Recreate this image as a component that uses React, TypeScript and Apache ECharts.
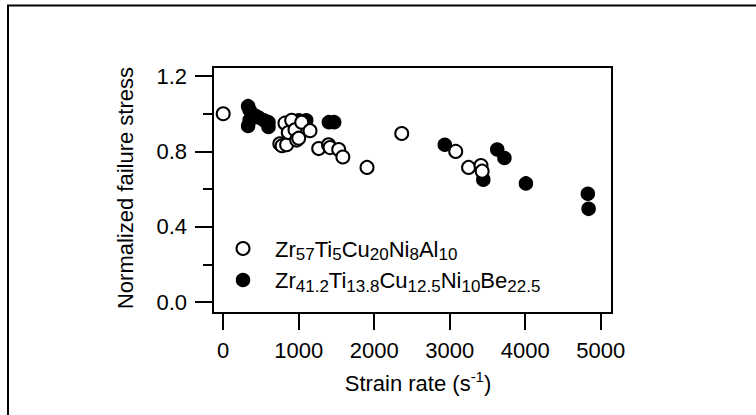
import React, { useEffect, useRef } from "react";
import * as echarts from "echarts";

// Zr57Ti5Cu20Ni8Al10 (open circles): [strain rate, normalized failure stress]
const openSeries: [number, number][] = [
  [0, 1.0], [750, 0.84], [780, 0.83], [840, 0.835], [818, 0.95], [862, 0.9],
  [907, 0.965], [951, 0.915], [973, 0.86], [1000, 0.87], [1040, 0.955],
  [1150, 0.91], [1265, 0.815], [1395, 0.835], [1415, 0.82], [1530, 0.81],
  [1585, 0.77], [1905, 0.715], [2365, 0.895], [3080, 0.8], [3250, 0.715],
  [3415, 0.725], [3430, 0.695],
];

// Zr41.2Ti13.8Cu12.5Ni10Be22.5 (filled circles)
const filledSeries: [number, number][] = [
  [330, 1.04], [350, 1.02], [420, 0.99], [470, 0.98], [350, 0.965], [330, 0.935],
  [540, 0.965], [600, 0.955], [600, 0.93], [1000, 0.965], [1100, 0.965],
  [1400, 0.955], [1470, 0.955], [2935, 0.835], [3445, 0.65], [3630, 0.81],
  [3725, 0.765], [4010, 0.63], [4830, 0.575], [4840, 0.495],
];

const xTicks = [0, 1000, 2000, 3000, 4000, 5000];
const yTicks = [0, 0.4, 0.8, 1.2];
const yMinorTicks = [0.2, 0.6, 1.0];

const legendOpen = "{n|Zr}{s|57}{n|Ti}{s|5}{n|Cu}{s|20}{n|Ni}{s|8}{n|Al}{s|10}";
const legendFilled = "{n|Zr}{s|41.2}{n|Ti}{s|13.8}{n|Cu}{s|12.5}{n|Ni}{s|10}{n|Be}{s|22.5}";

const FONT = "Liberation Sans, Arial, sans-serif";

export default function App() {
  const ref = useRef<HTMLDivElement>(null);
  useEffect(() => {
    if (!ref.current) return;
    const chart = echarts.init(ref.current, undefined, { renderer: "svg" });
    const legendRich = {
      n: { fontSize: 22, fontFamily: FONT, color: "#000", lineHeight: 24 },
      s: { fontSize: 17, fontFamily: FONT, color: "#000", padding: [11, 0, 0, 0] },
    };
    chart.setOption({
      animation: false,
      backgroundColor: "#fff",
      grid: {
        left: 213,
        top: 67,
        right: 144,
        bottom: 102,
        show: true,
        borderColor: "#000",
        borderWidth: 2,
        containLabel: false,
      },
      xAxis: {
        type: "value",
        min: -135,
        max: 5150,
        axisLine: { show: true, onZero: false, lineStyle: { color: "#000", width: 2 } },
        axisTick: {
          show: true,
          inside: false,
          length: 17,
          customValues: xTicks,
          lineStyle: { color: "#000", width: 2 },
        },
        axisLabel: {
          customValues: xTicks,
          fontSize: 22,
          fontFamily: FONT,
          color: "#000",
          margin: 26,
          formatter: (v: number) => String(v),
        },
        splitLine: { show: false },
      },
      yAxis: [
        {
          type: "value",
          min: -0.058,
          max: 1.248,
          axisLine: { show: true, onZero: false, lineStyle: { color: "#000", width: 2 } },
          axisTick: {
            show: true,
            inside: false,
            length: 18,
            customValues: yTicks,
            lineStyle: { color: "#000", width: 2 },
          },
          axisLabel: {
            customValues: yTicks,
            fontSize: 22,
            fontFamily: FONT,
            color: "#000",
            margin: 26,
            formatter: (v: number) => v.toFixed(1),
          },
          splitLine: { show: false },
        },
        {
          type: "value",
          min: -0.058,
          max: 1.248,
          position: "left",
          axisLine: { show: false, onZero: false },
          axisTick: {
            show: true,
            inside: false,
            length: 10,
            customValues: yMinorTicks,
            lineStyle: { color: "#000", width: 2 },
          },
          axisLabel: { show: false },
          splitLine: { show: false },
        },
      ],
      series: [
        {
          name: "Zr41.2Ti13.8Cu12.5Ni10Be22.5",
          type: "scatter",
          data: filledSeries,
          symbol: "circle",
          symbolSize: 13,
          itemStyle: { color: "#000", borderColor: "#000", borderWidth: 1.5, opacity: 1 },
          emphasis: { disabled: true },
        },
        {
          name: "Zr57Ti5Cu20Ni8Al10",
          type: "scatter",
          data: openSeries,
          symbol: "circle",
          symbolSize: 13,
          itemStyle: { color: "#fff", borderColor: "#000", borderWidth: 2, opacity: 1 },
          emphasis: { disabled: true },
        },
      ],
      graphic: [
        {
          type: "rect",
          shape: { x: 8, y: 5.5, width: 900, height: 600 },
          style: { fill: "none", stroke: "#000", lineWidth: 2 },
          silent: true,
        },
        {
          type: "text",
          x: 125,
          y: 188,
          rotation: Math.PI / 2,
          style: {
            text: "Normalized failure stress",
            fontSize: 22,
            fontFamily: FONT,
            fill: "#000",
            align: "center",
            verticalAlign: "middle",
          },
        },
        {
          type: "text",
          x: 418,
          y: 383,
          style: {
            text: "{a|Strain rate (s}{p|-1}{a|)}",
            align: "center",
            verticalAlign: "middle",
            rich: {
              a: { fontSize: 22, fontFamily: FONT, color: "#000", lineHeight: 26 },
              p: { fontSize: 15, fontFamily: FONT, color: "#000", padding: [0, 0, 13, 0] },
            },
          },
        },
        {
          type: "circle",
          shape: { cx: 243, cy: 248.5, r: 6.5 },
          style: { fill: "#fff", stroke: "#000", lineWidth: 2 },
        },
        {
          type: "circle",
          shape: { cx: 243, cy: 280, r: 6.5 },
          style: { fill: "#000", stroke: "#000", lineWidth: 1.5 },
        },
        {
          type: "text",
          x: 275,
          y: 249,
          style: { text: legendOpen, align: "left", verticalAlign: "middle", rich: legendRich },
        },
        {
          type: "text",
          x: 275,
          y: 280.5,
          style: { text: legendFilled, align: "left", verticalAlign: "middle", rich: legendRich },
        },
      ],
    });
    return () => chart.dispose();
  }, []);
  return (
    <div
      ref={ref}
      style={{ position: "absolute", left: 0, top: 0, width: 756, height: 415 }}
    />
  );
}
